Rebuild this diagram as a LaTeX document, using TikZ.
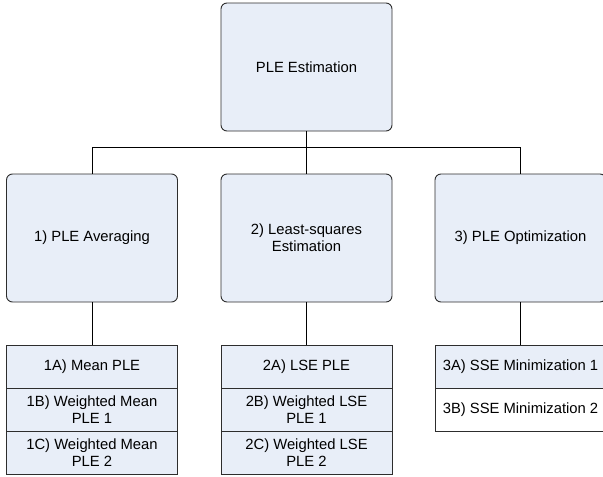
\documentclass[tikz,border=0pt]{standalone}
\usepackage{fontspec}
\setmainfont{Liberation Sans}
\usepackage{xcolor}
\usetikzlibrary{positioning}

\definecolor{boxfill}{RGB}{232,238,248}
\definecolor{boxline}{RGB}{45,45,45}
\tikzset{
  stage/.style={draw=boxline,fill=boxfill,line width=0.9pt,rounded corners=6pt,
    minimum width=171pt,minimum height=128pt,inner sep=0pt,align=center,
    font=\fontsize{14.8}{17}\selectfont},
  method/.style={draw=boxline,fill=boxfill,line width=0.9pt,outer sep=0pt,
    minimum width=171pt,minimum height=43pt,inner sep=0pt,align=center,
    font=\fontsize{14.8}{17}\selectfont},
  link/.style={draw=black,line width=0.9pt}
}

\begin{document}
\begin{tikzpicture}[x=1pt,y=-1pt]
\useasboundingbox (0,0) rectangle (603,477);
\node[stage] (est) at (306.5,67) {PLE Estimation};
\node[stage] (avg) at (92,238) {1) PLE Averaging};
\node[stage] (lse) at (306.5,238) {2) Least-squares\\Estimation};
\node[stage] (opt) at (520.5,238) {3) PLE Optimization};
\node[method] (m1a) at (92,366.5) {1A) Mean PLE};
\node[method,below=0pt of m1a] (m1b) {1B) Weighted Mean\\PLE 1};
\node[method,below=0pt of m1b] (m1c) {1C) Weighted Mean\\PLE 2};
\node[method] (m2a) at (306.5,366.5) {2A) LSE PLE};
\node[method,below=0pt of m2a] (m2b) {2B) Weighted LSE\\PLE 1};
\node[method,below=0pt of m2b] (m2c) {2C) Weighted LSE\\PLE 2};
\node[method] (m3a) at (520.5,366.5) {3A) SSE Minimization 1};
\node[method,fill=white,below=0pt of m3a] (m3b) {3B) SSE Minimization 2};
\draw[link] (est.south) -- ++(0,16) -| (avg.north);
\draw[link] (est.south) -- ++(0,16) -| (opt.north);
\draw[link] (est.south) -- (lse.north);
\draw[link] (avg.south) -- (m1a.north);
\draw[link] (lse.south) -- (m2a.north);
\draw[link] (opt.south) -- (m3a.north);
\end{tikzpicture}
\end{document}
